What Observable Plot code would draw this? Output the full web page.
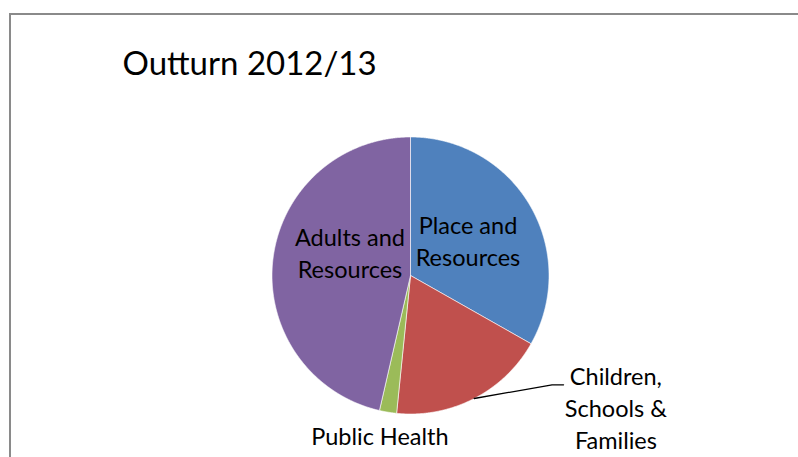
<!DOCTYPE html>
<html>
<head>
<meta charset="utf-8">
<script src="https://cdn.jsdelivr.net/npm/d3@7"></script>
<script src="https://cdn.jsdelivr.net/npm/@observablehq/plot@0.6"></script>
<style>
  html, body { margin: 0; padding: 0; background: #fff; }
  #wrap { position: relative; width: 798px; height: 457px; overflow: hidden; }
  #border { position: absolute; left: 9px; top: 13px; width: 900px; height: 600px;
            border-left: 2px solid #8a8a8a; border-top: 2px solid #8a8a8a; }
  #chart { position: absolute; left: 0; top: 0; }
</style>
</head>
<body>
<div id="wrap"><div id="border"></div><div id="chart"></div></div>
<script>
// Data (clockwise from 12 o'clock), share of outturn in %
const categories = ["Place and Resources", "Children, Schools & Families", "Public Health", "Adults and Resources"];
const values = [33.2, 18.4, 2.0, 46.4];
const labels = ["Place and\nResources", "Children,\nSchools &\nFamilies", "Public Health", "Adults and\nResources"];
const colors = ["#4F81BD", "#C0504D", "#9BBB59", "#8064A2"];
const title = "Outturn 2012/13";

// Layout: label anchor (last baseline, centre) in pie-radius units
const labelPos = [[0.415, 0.067], [1.483, -1.256], [-0.221, -1.227], [-0.437, -0.017]];

const pie = d3.pie().sort(null).value(d => d)(values);

// Slice polygons in unit-circle coordinates (angle clockwise from top)
const slices = [];
pie.forEach((p, i) => {
  const name = categories[i];
  slices.push({name, x: 0, y: 0});
  const steps = Math.max(2, Math.ceil((p.endAngle - p.startAngle) / 0.005));
  for (let k = 0; k <= steps; ++k) {
    const a = p.startAngle + (p.endAngle - p.startAngle) * k / steps;
    slices.push({name, x: Math.sin(a), y: Math.cos(a)});
  }
  slices.push({name, x: 0, y: 0});
});

const labelData = categories.map((c, i) => ({name: c, text: labels[i], x: labelPos[i][0], y: labelPos[i][1]}));

// Leader line for "Children, Schools & Families" from slice mid-angle
const cs = pie[1];
const mid = (cs.startAngle + cs.endAngle) / 2;
const leader = [
  {x: Math.sin(mid), y: Math.cos(mid)},
  {x: 1.022, y: -0.789},
  {x: 1.105, y: -0.789}
];

const font = "Lato, 'Open Sans', sans-serif";
const chart = Plot.plot({
  width: 798,
  height: 457,
  margin: 0,
  x: {domain: [-1, 1], range: [271.5, 548.5], axis: null},
  y: {domain: [-1, 1], range: [413.5, 136.5], axis: null},
  color: {domain: categories, range: colors},
  style: {fontFamily: font, background: "transparent"},
  marks: [
    Plot.line(slices, {x: "x", y: "y", z: "name", fill: "name", stroke: "white", strokeWidth: 0.6, strokeLinejoin: "round"}),
    Plot.line(leader, {x: "x", y: "y", stroke: "black", strokeWidth: 1.3}),
    Plot.text(labelData, {x: "x", y: "y", text: "text", fontSize: 23.5, lineHeight: 32 / 23.5, lineAnchor: "bottom", textAnchor: "middle", fill: "black"}),
    Plot.text([title], {frameAnchor: "top-left", dx: 122, dy: 74, lineAnchor: "bottom", textAnchor: "start", fontSize: 33, fill: "black"})
  ]
});
document.getElementById("chart").appendChild(chart);
</script>
</body>
</html>
